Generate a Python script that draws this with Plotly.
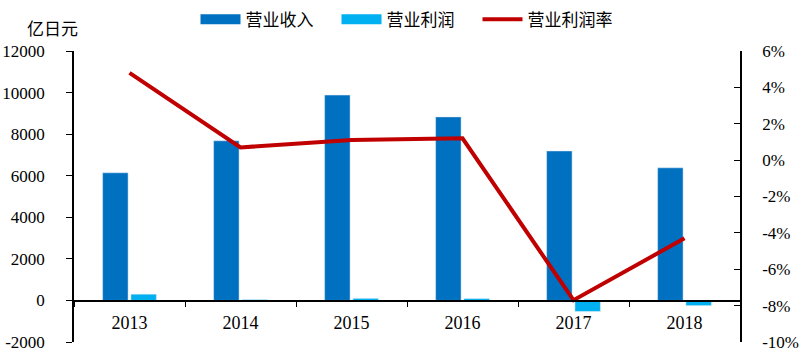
import plotly.graph_objects as go

years = ["2013", "2014", "2015", "2016", "2017", "2018"]
revenue = [6140, 7680, 9880, 8830, 7190, 6380]
profit = [300, 40, 100, 90, -530, -250]
margin = [4.8, 0.7, 1.1, 1.2, -7.7, -4.3]

left_ticks = [-2000, 0, 2000, 4000, 6000, 8000, 10000, 12000]
left_labels = ["-2000", "0", "2000", "4000", "6000", "8000", "10000", "12000"]
right_ticks = [-10, -8, -6, -4, -2, 0, 2, 4, 6]
right_labels = ["-10%", "-8%", "-6%", "-4%", "-2%", "0%", "2%", "4%", "6%"]

serif = "Liberation Serif, Times New Roman, serif"
cjk = "Noto Sans CJK SC"
c_rev, c_pro, c_mar = "#0070C0", "#00B0F0", "#C00000"

fig = go.Figure()
fig.add_trace(go.Bar(x=years, y=revenue, name="营业收入", marker_color=c_rev, showlegend=False))
fig.add_trace(go.Bar(x=years, y=profit, name="营业利润", marker_color=c_pro, showlegend=False))
fig.add_trace(go.Scatter(x=years, y=margin, name="营业利润率", yaxis="y2", mode="lines",
                         line=dict(color=c_mar, width=4), showlegend=False))
# legend proxies (no data) to get wide rectangular legend keys
for nm, col, w in [("营业收入", c_rev, 10), ("营业利润", c_pro, 10), ("营业利润率", c_mar, 4)]:
    fig.add_trace(go.Scatter(x=[None], y=[None], name=nm, mode="lines",
                             line=dict(color=col, width=w)))

fig.update_layout(
    width=800, height=351,
    margin=dict(l=74, r=60, t=51, b=9, autoexpand=False),
    plot_bgcolor="white", paper_bgcolor="white",
    barmode="group", bargap=0.49, bargroupgap=0.1,
    font=dict(family=serif, size=17, color="black"),
    legend=dict(orientation="h", x=0.5, xanchor="center", y=0.995, yanchor="top",
                yref="container", font=dict(family=cjk, size=17), itemwidth=40,
                entrywidth=86, entrywidthmode="pixels", traceorder="normal"),
    xaxis=dict(anchor="free", position=(342 - 301) / 291, showline=True, linecolor="black",
               linewidth=1.5, ticks="outside", tickson="boundaries", ticklen=5,
               tickcolor="black", showgrid=False, ticklabelstandoff=6, automargin=False,
               tickfont=dict(family=serif, size=18)),
    yaxis=dict(range=[-2000, 12000], tickvals=left_ticks, ticktext=left_labels,
               showline=True, linecolor="black", ticklabelstandoff=18, automargin=False,
               linewidth=1.5, ticks="outside", ticklen=6, tickcolor="black",
               ticklabeloverflow="allow",
               showgrid=False, zeroline=False, tickfont=dict(family=serif, size=17)),
    yaxis2=dict(range=[-10, 6], tickvals=right_ticks, ticktext=right_labels,
                overlaying="y", side="right", showline=True, ticklabelstandoff=17,
                linecolor="black", linewidth=1.5, ticks="inside", ticklen=6,
                ticklabeloverflow="allow",
                automargin=False, tickcolor="black", showgrid=False, zeroline=False,
                tickfont=dict(family=serif, size=17)),
    annotations=[dict(text="亿日元", xref="paper", yref="paper", x=(52 - 74) / 666,
                      y=(342 - 27) / 291, xanchor="center", yanchor="middle",
                      showarrow=False, font=dict(family=cjk, size=17))],
)
fig.write_html("out.html")
